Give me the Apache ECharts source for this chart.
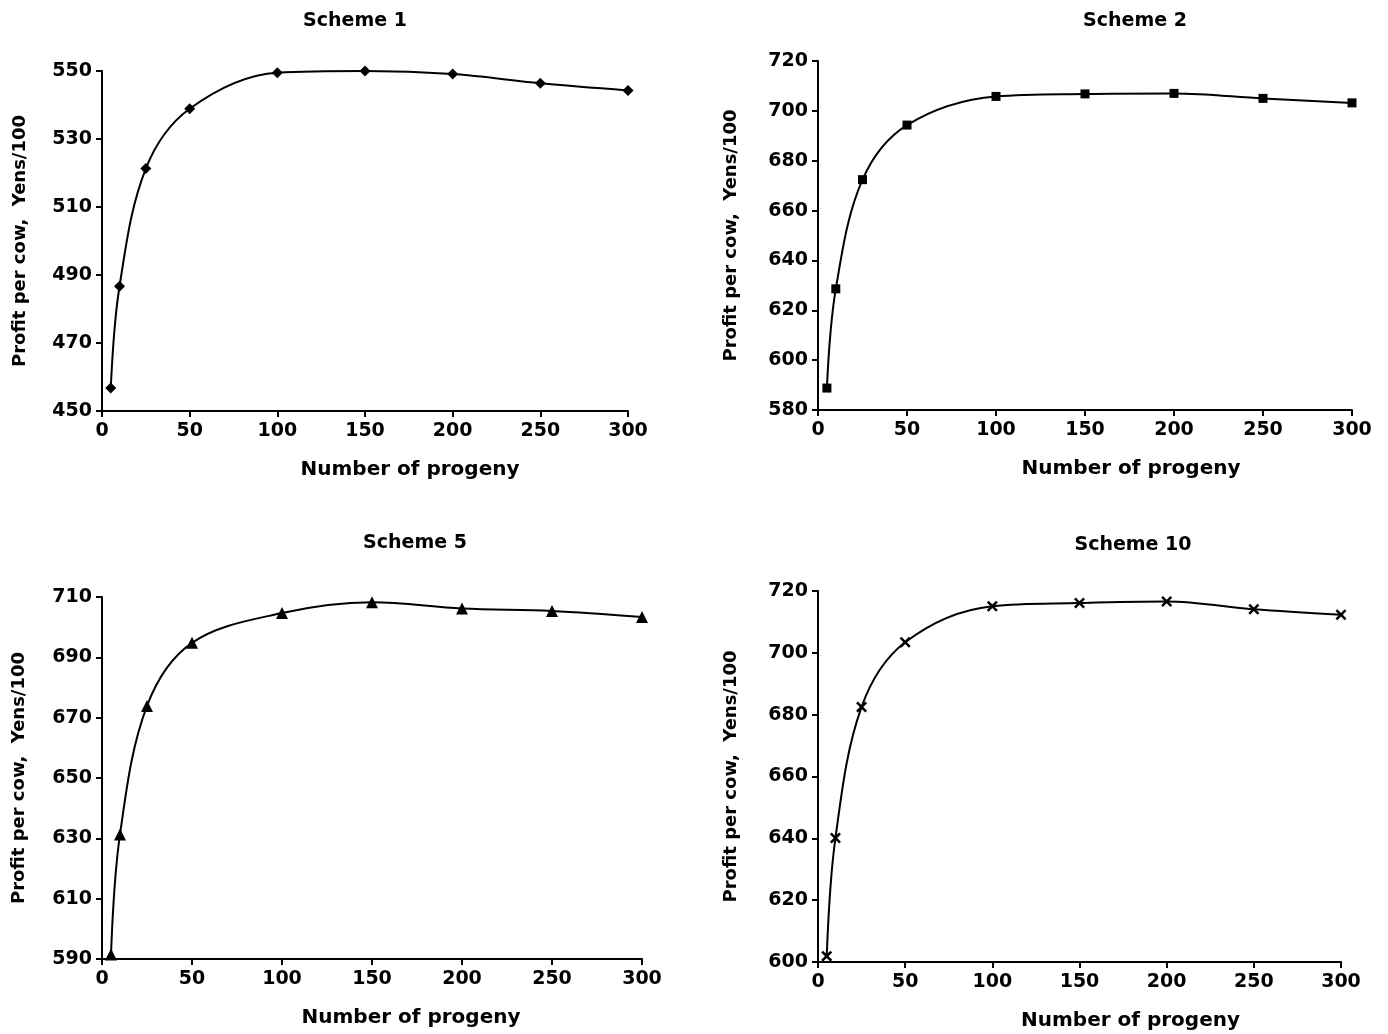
<!DOCTYPE html>
<html>
<head>
<meta charset="utf-8">
<script src="https://cdn.jsdelivr.net/npm/echarts@6/dist/echarts.min.js"></script>
<style>
html, body { margin: 0; padding: 0; background: #fff; }
#chart { width: 1388px; height: 1034px; }
</style>
</head>
<body>
<div id="chart"></div>
<script>
// number of progeny (same for every scheme)
var progeny = [5, 10, 25, 50, 100, 150, 200, 250, 300];

// profit per cow, Yens/100
var scheme1 = [456.8, 486.7, 521.3, 538.9, 549.5, 550.0, 549.1, 546.4, 544.3];
var scheme2 = [588.8, 628.6, 672.4, 694.3, 705.8, 706.8, 707.0, 705.0, 703.2];
var scheme5 = [591.5, 631.3, 673.9, 694.8, 704.7, 708.3, 706.2, 705.4, 703.4];
var scheme10 = [601.9, 640.1, 682.5, 703.4, 715.1, 716.1, 716.6, 714.1, 712.3];

var titles = ['Scheme 1', 'Scheme 2', 'Scheme 5', 'Scheme 10'];
var yMins = [450, 580, 590, 600];
var yMaxs = [550, 720, 710, 720];

var FONT = 'DejaVu Sans';

function pairs(vals) {
	var out = [];
	for (var i = 0; i < progeny.length; i++) {
		out.push([progeny[i], vals[i]]);
	}
	return out;
}

var crossPath = 'path://M0,1.6L1.6,0L5,3.4L8.4,0L10,1.6L6.6,5L10,8.4L8.4,10L5,6.6L1.6,10L0,8.4L3.4,5Z';

var grids = [
	{ left: 102, right: 760, top: 71, height: 340 },
	{ left: 818, right: 36, top: 61, height: 349 },
	{ left: 102, right: 746, top: 597, height: 362 },
	{ left: 818, right: 47, top: 591, height: 371 }
];
var titlePos = [[350, 7], [1130, 7], [410, 529], [1128, 531]];
var xNameShift = [90, 92, 78, 102];
var yNameGap = [73, 78, 74, 78];
var symbols = ['diamond', 'rect', 'triangle', crossPath];
var symbolSizes = [11, 9, 12, 11];
var data = [scheme1, scheme2, scheme5, scheme10];

var axisLine = { show: true, lineStyle: { color: '#000', width: 2 } };
var axisTick = { show: true, length: 6, inside: false, lineStyle: { color: '#000', width: 2 } };

var option = {
	animation: false,
	backgroundColor: '#fff',
	title: [],
	grid: [],
	xAxis: [],
	yAxis: [],
	series: []
};

for (var k = 0; k < 4; k++) {
	option.title.push({
		text: titles[k],
		left: titlePos[k][0],
		top: titlePos[k][1],
		textAlign: 'center',
		textStyle: { fontFamily: FONT, fontWeight: 'bold', fontSize: 19, color: '#000' }
	});
	option.grid.push(grids[k]);
	option.xAxis.push({
		gridIndex: k,
		type: 'value',
		min: 0,
		max: 300,
		interval: 50,
		name: 'Number of progeny',
		nameLocation: 'middle',
		nameGap: 49,
		nameTextStyle: {
			fontFamily: FONT, fontWeight: 'bold', fontSize: 20, color: '#000',
			padding: [0, 0, 0, xNameShift[k]]
		},
		axisLine: axisLine,
		axisTick: axisTick,
		splitLine: { show: false },
		axisLabel: { margin: 11, fontFamily: FONT, fontWeight: 'bold', fontSize: 19, color: '#000' }
	});
	option.yAxis.push({
		gridIndex: k,
		type: 'value',
		min: yMins[k],
		max: yMaxs[k],
		interval: 20,
		name: 'Profit per cow,  Yens/100',
		nameLocation: 'middle',
		nameRotate: 90,
		nameGap: yNameGap[k],
		nameTextStyle: { fontFamily: FONT, fontWeight: 'bold', fontSize: 18, color: '#000' },
		axisLine: axisLine,
		axisTick: axisTick,
		splitLine: { show: false },
		axisLabel: { margin: 10, fontFamily: FONT, fontWeight: 'bold', fontSize: 19, color: '#000' }
	});
	option.series.push({
		name: titles[k],
		type: 'line',
		xAxisIndex: k,
		yAxisIndex: k,
		data: pairs(data[k]),
		smooth: 0.35,
		symbol: symbols[k],
		symbolSize: symbolSizes[k],
		showAllSymbol: true,
		clip: false,
		lineStyle: { color: '#000', width: 2 },
		itemStyle: { color: '#000' }
	});
}

var myChart = echarts.init(document.getElementById('chart'));
myChart.setOption(option);
</script>
</body>
</html>
